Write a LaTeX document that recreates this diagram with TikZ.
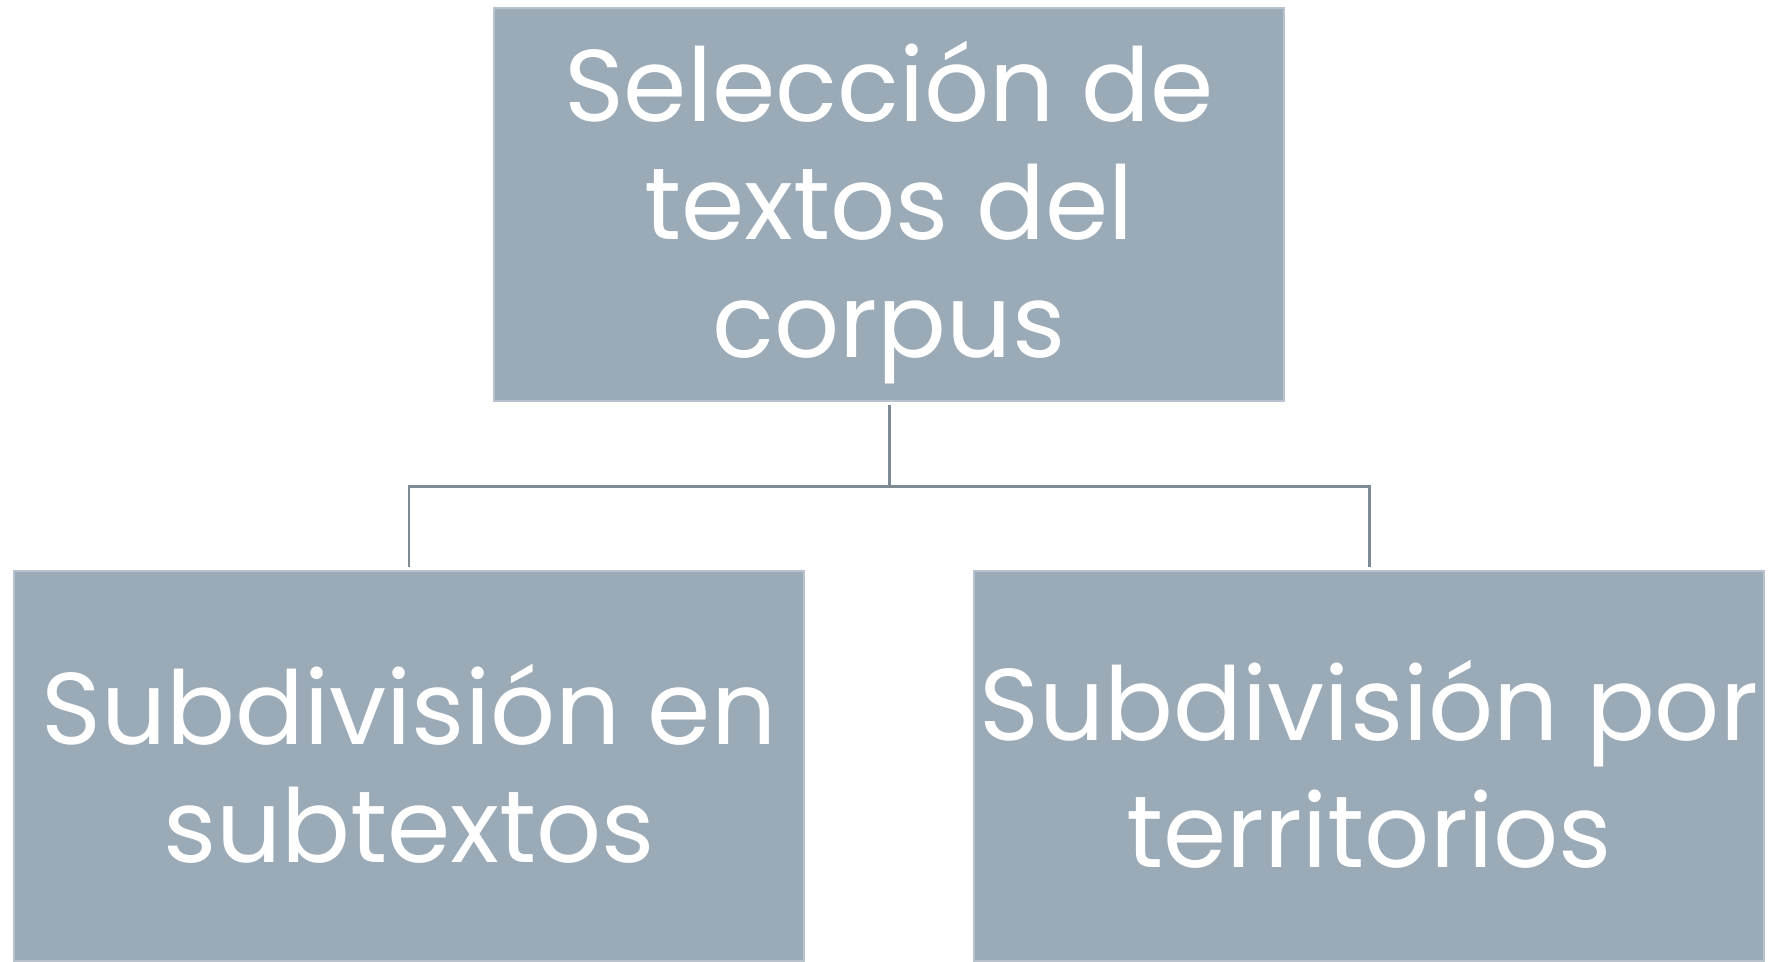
\documentclass[tikz,border=0pt]{standalone}
\usepackage{fontspec}
\setmainfont{Poppins}
\usepackage{tikz}
\usetikzlibrary{positioning}

\definecolor{cajagris}{HTML}{9BAAB7}
\definecolor{lineagris}{HTML}{7E8A94}

% altura fija de cada renglon
\newcommand{\puntal}{\rule[-2.12mm]{0pt}{11.8mm}}

\tikzset{
  caja/.style={rectangle, fill=cajagris, draw=cajagris!70!white, line width=0.4pt,
    text=white, align=center, inner sep=0pt,
    font=\fontsize{29}{33.6}\selectfont},
  conector/.style={draw=lineagris, line width=0.85pt}
}

\begin{document}
\begin{tikzpicture}
  % Marco del dibujo
  \useasboundingbox (0,0) rectangle (17.75,-9.61);

  % Caja superior
  \node[caja, minimum width=7.9cm, minimum height=3.93cm] (seleccion) at (8.89,-2.045)
    {\puntal Selección de\\\puntal textos del\\\puntal corpus};

  % Cajas inferiores
  \node[caja, minimum width=7.9cm, minimum height=3.9cm] (subtextos) at (4.09,-7.66)
    {\puntal Subdivisión en\\\puntal subtextos};
  \node[caja, minimum width=7.9cm, minimum height=3.9cm] (territorios) at (13.69,-7.66)
    {\puntal Subdivisión por\\\puntal territorios};

  % Conectores
  \coordinate (rama) at (8.89,-4.86);
  \draw[conector, shorten <=0.03cm] (seleccion.south) -- (rama);
  \draw[conector, shorten >=0.03cm] (rama) -| (subtextos.north);
  \draw[conector, shorten >=0.03cm] (rama) -| (territorios.north);
\end{tikzpicture}
\end{document}
